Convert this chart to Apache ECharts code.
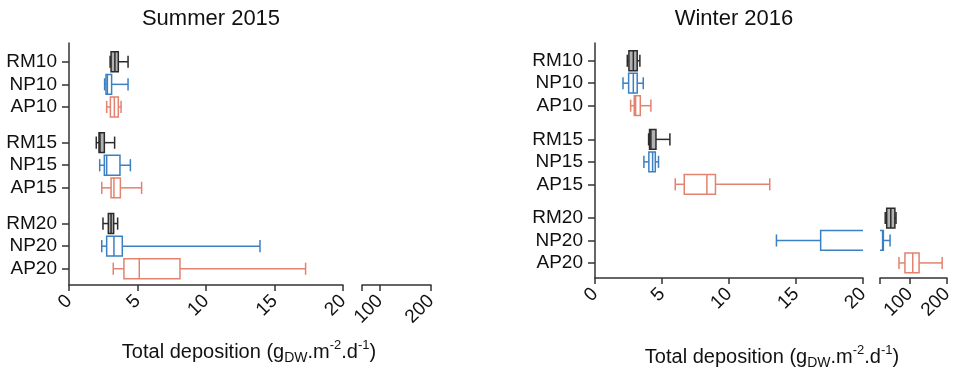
<!DOCTYPE html>
<html>
<head>
<meta charset="utf-8">
<script src="https://cdn.jsdelivr.net/npm/echarts@6/dist/echarts.min.js"></script>
<style>
  html, body { margin: 0; padding: 0; background: #fff; }
  #chart { width: 957px; height: 371px; }
</style>
</head>
<body>
<div id="chart"></div>
<script>
var rowNames = ['RM10', 'NP10', 'AP10', 'RM15', 'NP15', 'AP15', 'RM20', 'NP20', 'AP20'];

// [min, Q1, median, Q3, max]
var summer2015 = [
	[3.00, 3.07, 3.35, 3.60, 4.31],
	[2.60, 2.70, 2.80, 3.11, 4.31],
	[2.75, 3.02, 3.31, 3.60, 3.80],
	[1.99, 2.19, 2.26, 2.58, 3.33],
	[2.24, 2.58, 2.75, 3.72, 4.48],
	[2.39, 3.07, 3.28, 3.75, 5.30],
	[2.48, 2.87, 3.07, 3.26, 3.55],
	[2.39, 2.75, 3.28, 3.89, 13.94],
	[3.23, 4.01, 5.13, 8.10, 17.27]
];
var winter2016 = [
	[2.41, 2.53, 2.86, 3.15, 3.35],
	[2.09, 2.51, 2.86, 3.15, 3.60],
	[2.66, 2.93, 3.03, 3.38, 4.17],
	[4.00, 4.07, 4.17, 4.55, 5.59],
	[3.65, 4.02, 4.30, 4.50, 4.74],
	[5.99, 6.66, 8.35, 8.99, 13.04],
	[34, 38, 49, 60, 63],
	[13.54, 16.84, 27, 29, 47],
	[71, 87, 108, 125, 187]
];

var lowTicks = [0, 5, 10, 15, 20];
var highTicks = [100, 200];

var colors = { RM: '#2b2b2b', NP: '#3a80c2', AP: '#e3826f' };
var fills = { RM: 'rgba(0,0,0,0.3)', NP: 'rgba(0,0,0,0)', AP: 'rgba(0,0,0,0)' };
var font = 'Liberation Sans, Arial, sans-serif';

var panels = [
	{ title: 'Summer 2015', data: summer2015, gap: 0.58, top: 43, bottom: 285,
	  low: [69, 343], high: [362, 431], highMin: 65, yMin: -0.83, yMax: 9.88, nameTop: 334, nameShift: -6 },
	{ title: 'Winter 2016', data: winter2016, gap: 0.5, top: 43, bottom: 278,
	  low: [595, 863], high: [880, 947], highMin: 20, yMin: -0.79, yMax: 9.67, nameTop: 339, nameShift: -4 }
];

function rowPos(p, i) {
	return Math.floor(i / 3) * (3 + p.gap) + (i % 3);
}

function renderBox(params, api) {
	var pos = api.value(0);
	var y = api.coord([0, pos])[1];
	var unit = api.size([0, 1])[1];
	var h = unit * 0.44, c = unit * 0.27;
	var x = [];
	for (var k = 1; k <= 5; k++) x.push(api.coord([api.value(k), pos])[0]);
	var kind = rowNames[params.dataIndex].slice(0, 2);
	var st = { stroke: colors[kind], lineWidth: 1.5, fill: 'none' };
	return {
		type: 'group',
		children: [
			{ type: 'rect', shape: { x: x[1], y: y - h, width: x[3] - x[1], height: 2 * h },
			  style: { stroke: colors[kind], lineWidth: 1.5, fill: fills[kind] } },
			{ type: 'line', shape: { x1: x[2], y1: y - h, x2: x[2], y2: y + h }, style: st },
			{ type: 'line', shape: { x1: x[0], y1: y, x2: x[1], y2: y }, style: st },
			{ type: 'line', shape: { x1: x[3], y1: y, x2: x[4], y2: y }, style: st },
			{ type: 'line', shape: { x1: x[0], y1: y - c, x2: x[0], y2: y + c }, style: st },
			{ type: 'line', shape: { x1: x[4], y1: y - c, x2: x[4], y2: y + c }, style: st }
		]
	};
}

var grid = [], xAxis = [], yAxis = [], series = [], title = [];
var axisTick = { show: true, length: 6, lineStyle: { color: '#333', width: 1.5 } };

panels.forEach(function (p, pi) {
	var positions = rowNames.map(function (n, i) { return rowPos(p, i); });
	var seriesData = p.data.map(function (d, i) { return [positions[i]].concat(d); });

	[p.low, p.high].forEach(function (seg, si) {
		var gi = grid.length;
		grid.push({ left: seg[0], width: seg[1] - seg[0], top: p.top, height: p.bottom - p.top });
		var isLow = si === 0;
		xAxis.push({
			type: 'value', gridIndex: gi, position: 'bottom',
			min: isLow ? 0 : p.highMin, max: isLow ? 20 : 200,
			interval: isLow ? 5 : undefined,
			splitLine: { show: false },
			axisLine: { show: true, onZero: false, lineStyle: { color: '#333', width: 1.5 } },
			axisTick: isLow ? axisTick : Object.assign({ customValues: [p.highMin].concat(highTicks) }, axisTick),
			axisLabel: Object.assign({
				rotate: 45, margin: 13, fontSize: 19, color: '#111', fontFamily: font
			}, isLow ? { customValues: lowTicks } : { customValues: highTicks })
		});
		yAxis.push({
			type: 'value', gridIndex: gi, inverse: true,
			min: p.yMin, max: p.yMax,
			splitLine: { show: false },
			axisLine: { show: isLow, onZero: false, lineStyle: { color: '#333', width: 1.5 } },
			axisTick: { show: isLow, customValues: positions, length: 7, lineStyle: { color: '#333', width: 1.5 } },
			axisLabel: {
				show: isLow, customValues: positions, margin: 12,
				fontSize: 19, color: '#111', fontFamily: font,
				formatter: function (v) {
					for (var i = 0; i < positions.length; i++) {
						if (Math.abs(positions[i] - v) < 1e-6) return rowNames[i];
					}
					return '';
				}
			}
		});
		series.push({
			type: 'custom', xAxisIndex: gi, yAxisIndex: gi, clip: true,
			renderItem: renderBox,
			encode: { x: [1, 2, 3, 4, 5], y: 0 },
			data: seriesData,
			silent: true
		});
	});

	var mid = (p.low[0] + p.low[1]) / 2;
	var whole = (p.low[0] + p.high[1]) / 2 + p.nameShift;
	title.push({
		text: p.title, left: mid, top: 3, textAlign: 'center',
		textStyle: { fontSize: 22, fontWeight: 'normal', color: '#111', fontFamily: font }
	});
	title.push({
		text: '{t|Total deposition (g}{sub|DW}{t|.m}{sup|-2}{t|.d}{sup|-1}{t|)}',
		left: whole, top: p.nameTop, textAlign: 'center',
		textStyle: {
			fontWeight: 'normal',
			rich: {
				t: { fontSize: 20, fontWeight: 'normal', color: '#111', fontFamily: font, lineHeight: 26 },
				sub: { fontSize: 14, fontWeight: 'normal', color: '#111', fontFamily: font, verticalAlign: 'bottom', padding: [10, 0, 0, 0], lineHeight: 26 },
				sup: { fontSize: 13, fontWeight: 'normal', color: '#111', fontFamily: font, verticalAlign: 'top', padding: [0, 0, 10, 0], lineHeight: 26 }
			}
		}
	});
});

var myChart = echarts.init(document.getElementById('chart'));
myChart.setOption({
	animation: false,
	title: title,
	grid: grid,
	xAxis: xAxis,
	yAxis: yAxis,
	series: series
});
window.addEventListener('resize', function () {
	myChart.resize();
});
</script>
</body>
</html>
